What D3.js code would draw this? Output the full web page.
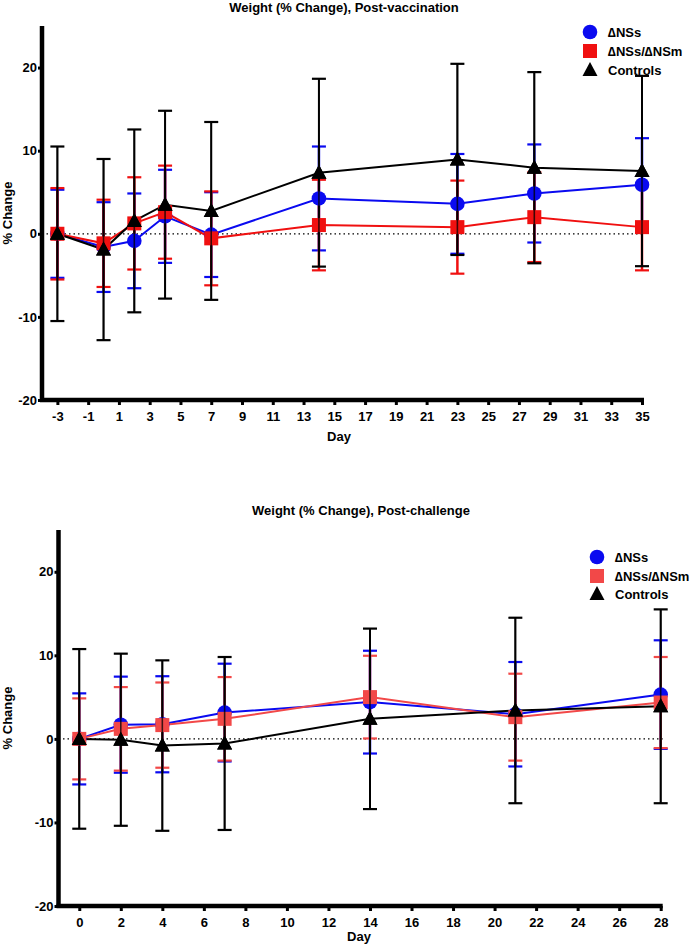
<!DOCTYPE html>
<html>
<head>
<meta charset="utf-8">
<script src="https://cdn.jsdelivr.net/npm/d3@7"></script>
<style>
  html, body { margin: 0; padding: 0; background: #fff; }
  svg { display: block; font-family: "Liberation Sans", Arial, sans-serif; }
</style>
</head>
<body>
<svg id="chart" width="691" height="944"></svg>
<script>
// ---------- Data: Post-vaccination ----------
const vacTitle = "Weight (% Change), Post-vaccination";
const vacDays = [-3, 0, 2, 4, 7, 14, 23, 28, 35];
const vacXTicks = [-3, -1, 1, 3, 5, 7, 9, 11, 13, 15, 17, 19, 21, 23, 25, 27, 29, 31, 33, 35];
const vacNSsMean = [0, -1.6, -0.85, 2.1, -0.1, 4.25, 3.6, 4.85, 5.9];
const vacNSsSD   = [5.3, 5.4, 5.7, 5.6, 5.1, 6.25, 6.0, 5.9, 5.6];
const vacNSmMean = [0, -1.15, 1.25, 2.6, -0.55, 1.05, 0.8, 2.0, 0.8];
const vacNSmSD   = [5.5, 5.25, 5.55, 5.6, 5.65, 5.45, 5.6, 5.4, 5.2];
const vacCtlMean = [0, -1.9, 1.55, 3.5, 2.75, 7.35, 8.95, 7.95, 7.55];
const vacCtlSD   = [10.5, 10.9, 11.0, 11.3, 10.7, 11.3, 11.5, 11.5, 11.45];

// ---------- Data: Post-challenge ----------
const chalTitle = "Weight (% Change), Post-challenge";
const chalDays = [0, 2, 4, 7, 14, 21, 28];
const chalXTicks = [0, 2, 4, 6, 8, 10, 12, 14, 16, 18, 20, 22, 24, 26, 28];
const chalNSsMean = [0, 1.7, 1.75, 3.15, 4.4, 2.95, 5.3];
const chalNSsSD   = [5.45, 5.75, 5.75, 5.85, 6.15, 6.25, 6.5];
const chalNSmMean = [0, 1.2, 1.65, 2.4, 5.0, 2.6, 4.35];
const chalNSmSD   = [4.85, 5.0, 5.1, 5.0, 4.95, 5.2, 5.45];
const chalCtlMean = [0, -0.1, -0.8, -0.55, 2.4, 3.4, 3.9];
const chalCtlSD   = [10.75, 10.3, 10.2, 10.35, 10.8, 11.1, 11.6];

const yTicks = [-20, -10, 0, 10, 20];
const legendNames = ["\u2206NSs", "\u2206NSs/\u2206NSm", "Controls"];

const svg = d3.select("#chart");
const FS = 13;

function drawChart(cfg) {
  const g = svg.append("g");
  const x = d3.scaleLinear().domain(cfg.xDomain).range(cfg.xRange);
  const y = d3.scaleLinear().domain([-20, 25]).range(cfg.yRange);
  const x0 = cfg.xRange[0], xEnd = cfg.xRange[1];
  const yBottom = cfg.yRange[0], yTop = cfg.yRange[1];

  // title
  g.append("text").attr("x", cfg.titleX).attr("y", cfg.titleY)
    .attr("text-anchor", "middle").attr("font-size", FS).attr("font-weight", "bold")
    .text(cfg.title);

  // zero dotted line
  g.append("line").attr("x1", x0).attr("x2", xEnd + 2)
    .attr("y1", y(0)).attr("y2", y(0))
    .attr("stroke", "#000").attr("stroke-width", 1.2).attr("stroke-dasharray", "1.5,3");

  // axes
  const yAxis = d3.axisLeft(y).tickValues(yTicks).tickSize(4).tickPadding(1).tickFormat(d => String(d));
  const ya = g.append("g").attr("transform", `translate(${x0},0)`).call(yAxis);
  ya.select(".domain").remove();
  ya.selectAll(".tick line").attr("stroke-width", 3);
  ya.selectAll(".tick text").attr("font-size", FS).attr("font-weight", "bold")
    .attr("font-family", "Liberation Sans, Arial, sans-serif").attr("fill", "#000");
  g.append("line").attr("x1", x0).attr("x2", x0).attr("y1", yTop).attr("y2", yBottom + 2)
    .attr("stroke", "#000").attr("stroke-width", 4.5);

  const xAxis = d3.axisBottom(x).tickValues(cfg.xTicks).tickSize(5).tickPadding(7).tickFormat(d => String(d));
  const xa = g.append("g").attr("transform", `translate(0,${yBottom})`).call(xAxis);
  xa.select(".domain").remove();
  xa.selectAll(".tick line").attr("stroke-width", 3);
  xa.selectAll(".tick text").attr("font-size", FS).attr("font-weight", "bold")
    .attr("font-family", "Liberation Sans, Arial, sans-serif").attr("fill", "#000");
  g.append("line").attr("x1", x0 - 2).attr("x2", xEnd + 2).attr("y1", yBottom).attr("y2", yBottom)
    .attr("stroke", "#000").attr("stroke-width", 4.5);

  // axis labels
  g.append("text").attr("transform", `translate(12,${(yTop + yBottom) / 2}) rotate(-90)`)
    .attr("text-anchor", "middle").attr("font-size", FS).attr("font-weight", "bold").text("% Change");
  g.append("text").attr("x", cfg.dayX).attr("y", cfg.dayY)
    .attr("text-anchor", "middle").attr("font-size", FS).attr("font-weight", "bold").text("Day");

  const series = cfg.series;
  const capW = 7;

  // colored error bars first
  series.forEach((s) => {
    const eg = g.append("g");
    cfg.days.forEach((d, i) => {
      const m = s.mean[i], sd = s.sd[i];
      eg.append("line").attr("x1", x(d)).attr("x2", x(d)).attr("y1", y(m - sd)).attr("y2", y(m + sd))
        .attr("stroke", s.color).attr("stroke-width", s.isCtl ? 2 : 2.5);
      [m - sd, m + sd].forEach(v => {
        eg.append("line").attr("x1", x(d) - capW).attr("x2", x(d) + capW)
          .attr("y1", y(v)).attr("y2", y(v))
          .attr("stroke", s.color).attr("stroke-width", 2.2);
      });
    });
  });

  // lines + markers
  const lineGen = d3.line().x(d => x(d[0])).y(d => y(d[1]));
  series.forEach(s => {
    const pts = cfg.days.map((d, i) => [d, s.mean[i]]);
    g.append("path").datum(pts).attr("d", lineGen)
      .attr("fill", "none").attr("stroke", s.color).attr("stroke-width", 2);
  });
  series.forEach(s => {
    cfg.days.forEach((d, i) => drawMarker(g, s.shape, x(d), y(s.mean[i]), s.color));
  });
  // black error bar verticals on top (as in original)
  const ctl = series[2];
  cfg.days.forEach((d, i) => {
    const m = ctl.mean[i], sd = ctl.sd[i];
    g.append("line").attr("x1", x(d)).attr("x2", x(d)).attr("y1", y(m - sd)).attr("y2", y(m + sd))
      .attr("stroke", "#000").attr("stroke-width", 1.6).attr("stroke-opacity", 0.75);
  });
  cfg.days.forEach((d, i) => drawMarker(g, ctl.shape, x(d), y(ctl.mean[i]), ctl.color));

  // legend
  const lg = g.append("g");
  series.forEach((s, i) => {
    const cy = cfg.legendY[i];
    drawMarker(lg, s.shape, cfg.legendX, cy, s.color);
    lg.append("text").attr("x", cfg.legendX + 18).attr("y", cy + 4.5)
      .attr("font-size", FS).attr("font-weight", "bold").text(legendNames[i]);
  });
}

function drawMarker(g, shape, cx, cy, color) {
  if (shape === "circle") {
    g.append("circle").attr("cx", cx).attr("cy", cy).attr("r", 7.3).attr("fill", color);
  } else if (shape === "square") {
    g.append("rect").attr("x", cx - 7).attr("y", cy - 7).attr("width", 14).attr("height", 14).attr("fill", color);
  } else {
    g.append("path").attr("d", `M${cx},${cy - 8}L${cx + 7.5},${cy + 6}L${cx - 7.5},${cy + 6}Z`).attr("fill", color);
  }
}

drawChart({
  title: vacTitle, titleX: 344, titleY: 12,
  xDomain: [-4, 35], xRange: [42, 642], yRange: [400, 26],
  xTicks: vacXTicks, days: vacDays,
  dayX: 339, dayY: 441,
  legendX: 590, legendY: [32, 51, 70],
  series: [
    { mean: vacNSsMean, sd: vacNSsSD, color: "#0a0af0", shape: "circle" },
    { mean: vacNSmMean, sd: vacNSmSD, color: "#f01010", shape: "square" },
    { mean: vacCtlMean, sd: vacCtlSD, color: "#000000", shape: "triangle", isCtl: true }
  ]
});

drawChart({
  title: chalTitle, titleX: 361, titleY: 515,
  xDomain: [-1, 28], xRange: [58.5, 660.7], yRange: [906, 530],
  xTicks: chalXTicks, days: chalDays,
  dayX: 359, dayY: 941,
  legendX: 597, legendY: [557, 576, 594],
  series: [
    { mean: chalNSsMean, sd: chalNSsSD, color: "#0a0af0", shape: "circle" },
    { mean: chalNSmMean, sd: chalNSmSD, color: "#f24848", shape: "square" },
    { mean: chalCtlMean, sd: chalCtlSD, color: "#000000", shape: "triangle", isCtl: true }
  ]
});
</script>
</body>
</html>
